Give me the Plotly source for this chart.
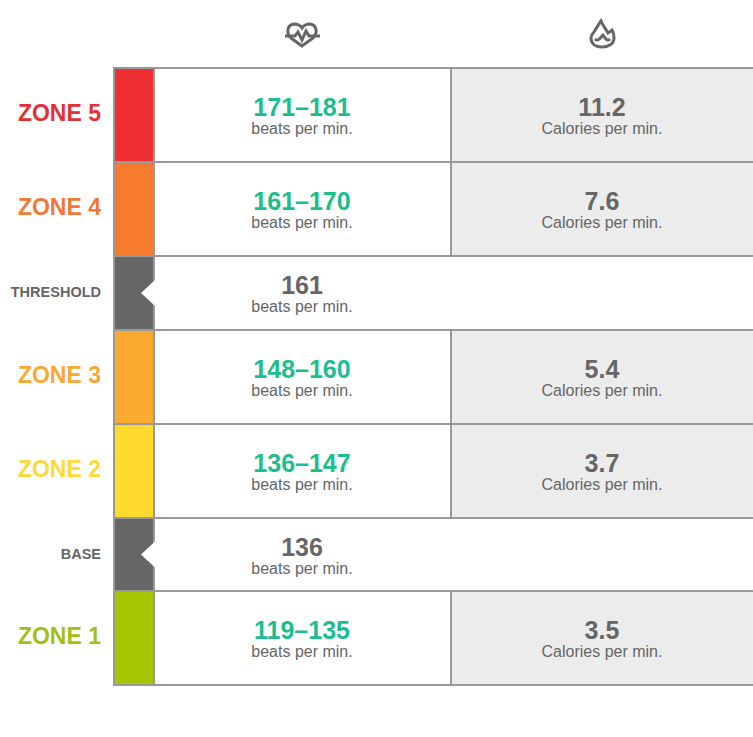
import numpy as np
import plotly.graph_objects as go

# Datos de la tabla
labels = ['ZONE 5', 'ZONE 4', 'THRESHOLD', 'ZONE 3', 'ZONE 2', 'BASE', 'ZONE 1']
beats = ['171–181', '161–170', '161', '148–160', '136–147', '136', '119–135']
calories = ['11.2', '7.6', None, '5.4', '3.7', None, '3.5']

bar_colors = ['#EE2E32', '#F77B2F', '#666666', '#FBA92F', '#FFD92B', '#666666', '#A6C400']
label_colors = ['#E03236', '#F07A35', '#666666', '#F9A835', '#FFD93A', '#666666', '#A6BE13']

# Geometria en pixeles (la ultima columna se sale del lienzo)
row_edges = np.array([68, 162, 256, 330, 424, 518, 591, 685])
col_edges = [114, 154, 451, 765]
GREEN = '#1DBE8E'
GREY = '#666666'
BORDER = '#999999'

tops = row_edges[:-1]
heights = np.diff(row_edges)
centers = tops + heights / 2
has_cal = [c is not None for c in calories]
border = dict(color=BORDER, width=2)

fig = go.Figure()

# Celdas blancas y grises
fig.add_trace(go.Bar(
    x=[(col_edges[1] + col_edges[3]) / 2] * 7, y=heights, base=tops,
    width=col_edges[3] - col_edges[1], marker=dict(color='white', line=border),
))
fig.add_trace(go.Bar(
    x=[(col_edges[2] + col_edges[3]) / 2] * sum(has_cal),
    y=heights[has_cal], base=tops[has_cal],
    width=col_edges[3] - col_edges[2], marker=dict(color='#ECECEC', line=border),
))
# Columna de color
fig.add_trace(go.Bar(
    x=[(col_edges[0] + col_edges[1]) / 2] * 7, y=heights, base=tops,
    width=col_edges[1] - col_edges[0], marker=dict(color=bar_colors, line=border),
))

shapes = []
# Muescas blancas de THRESHOLD y BASE
for i, c in enumerate(calories):
    if c is None:
        yc = centers[i]
        shapes.append(dict(
            type='path', path=f'M155,{yc - 13} L141,{yc} L155,{yc + 13} Z',
            fillcolor='white', line=dict(width=0),
        ))

# Iconos
icon_line = dict(color=GREY, width=3)
shapes.append(dict(type='path', line=icon_line, path=(
    'M302,46 L291,38 C286,33 287,25 294,24 C298,24 300,25 302,28 '
    'C304,25 306,24 310,24 C317,25 318,33 313,38 Z')))
shapes.append(dict(type='path', line=icon_line, path=(
    'M285,36 L295,36 L298,32 L302,40 L306,31 L309,36 L320,36')))
shapes.append(dict(type='path', line=icon_line, path=(
    'M601,21 C603,26 606,29 608,33 C610,32 612,30 612,30 C614,33 614,36 614,38 '
    'C614,44 608,47 602,47 C596,47 591,44 591,38 C591,36 592,34 594,32 '
    'C596,29 598,25 601,21 Z')))
shapes.append(dict(type='path', line=icon_line, path=(
    'M595,39 C598,42 600,38 603,35 C605,38 607,42 610,39')))

# Etiquetas de zona
label_sizes = [14.5 if l in ('THRESHOLD', 'BASE') else 23 for l in labels]
fig.add_trace(go.Scatter(
    x=[101] * 7, y=centers + 0.5, mode='text', text=[f'<b>{l}</b>' for l in labels],
    textposition='middle left',
    textfont=dict(size=label_sizes, color=label_colors),
))

# Pulsaciones
beat_colors = [GREEN if c is not None else GREY for c in calories]
fig.add_trace(go.Scatter(
    x=[302] * 7, y=centers - 5, mode='text', text=[f'<b>{b}</b>' for b in beats],
    textposition='middle center', textfont=dict(size=25, color=beat_colors),
))
fig.add_trace(go.Scatter(
    x=[302] * 7, y=centers + 15, mode='text', text=['beats per min.'] * 7,
    textposition='middle center', textfont=dict(size=16, color=GREY),
))

# Calorias
fig.add_trace(go.Scatter(
    x=[602] * sum(has_cal), y=centers[has_cal] - 5, mode='text',
    text=[f'<b>{c}</b>' for c in calories if c is not None],
    textposition='middle center', textfont=dict(size=25, color=GREY),
))
fig.add_trace(go.Scatter(
    x=[602] * sum(has_cal), y=centers[has_cal] + 15, mode='text',
    text=['Calories per min.'] * sum(has_cal),
    textposition='middle center', textfont=dict(size=16, color=GREY),
))

fig.update_layout(
    width=753, height=737, margin=dict(l=0, r=0, t=0, b=0),
    barmode='overlay', showlegend=False,
    plot_bgcolor='white', paper_bgcolor='white',
    font=dict(family='Liberation Sans, Arial, sans-serif'),
    xaxis=dict(range=[0, 753], visible=False, fixedrange=True),
    yaxis=dict(range=[737, 0], visible=False, fixedrange=True),
    shapes=shapes,
)

fig.write_html('out.html', post_script="document.body.style.margin='0';", config=dict(displayModeBar=False))
